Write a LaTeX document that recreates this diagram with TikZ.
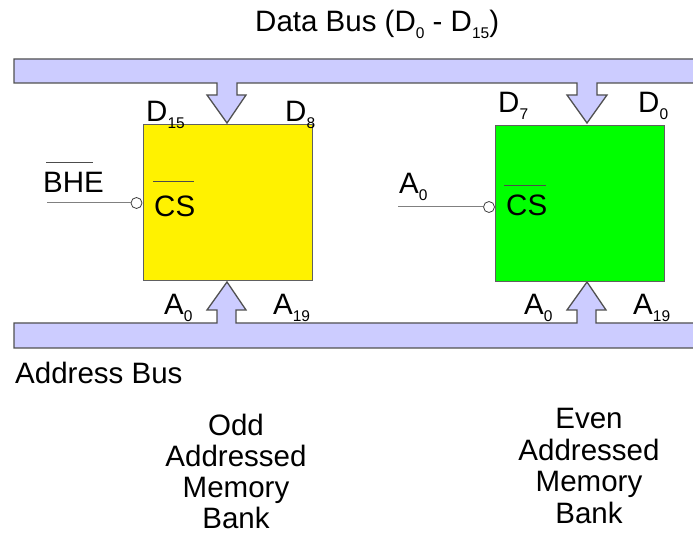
\documentclass[tikz,border=0pt]{standalone}
\usepackage{fontspec}
\setmainfont{Liberation Sans}
% lowered, smaller digits used as signal subscripts
\newcommand\lowsub[1]{\raisebox{-6.5pt}{\fontsize{15.5}{15.5}\selectfont #1}}
\definecolor{busfill}{HTML}{CCCCFF}
\definecolor{busline}{HTML}{505050}
\definecolor{boxline}{HTML}{606060}
\definecolor{wirecol}{HTML}{808080}
\begin{document}
\begin{tikzpicture}[x=1pt,y=-1pt,
  lbl/.style={inner sep=0pt, anchor=base west, font=\fontsize{29.5}{31}\selectfont},
  ctr/.style={inner sep=0pt, anchor=base, font=\fontsize{29.5}{31}\selectfont},
  bus/.style={fill=busfill, draw=busline, line width=1.3pt, line join=miter},
  bank/.style={draw=boxline, line width=0.8pt, inner sep=0pt, anchor=north west,
               minimum width=169pt, minimum height=156pt},
  bubble/.style={circle, draw=black!75, line width=0.8pt, fill=white,
                 minimum size=11pt, inner sep=0pt},
  wire/.style={draw=wirecol, line width=1pt},
  bar/.style={draw=black!70, line width=0.9pt}]
\useasboundingbox (0,0) rectangle (693,534);

% data bus with its two downward taps
\filldraw[bus] (14,59) -- (710,59) -- (710,83)
  -- (597,83) -- (597,95) -- (607,95) -- (587,123) -- (567,95) -- (577,95) -- (577,83)
  -- (237,83) -- (237,95) -- (246,95) -- (227,123) -- (207,95) -- (217,95) -- (217,83)
  -- (14,83) -- cycle;

% address bus with its two upward taps
\filldraw[bus] (14,348) -- (710,348) -- (710,323)
  -- (596,323) -- (596,310) -- (606,310) -- (587,282) -- (567,310) -- (577,310) -- (577,323)
  -- (236,323) -- (236,310) -- (246,310) -- (227,282) -- (207,310) -- (217,310) -- (217,323)
  -- (14,323) -- cycle;

% memory banks
\node[bank, fill=yellow] (odd) at (143,124) {};
\node[bank, fill=green] (even) at (495,125) {};

% chip-select inputs
\node[bubble] (csodd) at (136.5,203) {};
\coordinate (bhein) at (47,203);
\draw[wire] (bhein) -- (csodd.west);
\node[bubble] (cseven) at (489,207) {};
\coordinate (a0in) at (398,207);
\draw[wire] (a0in) -- (cseven.west);

% titles
\node[lbl] (dtitle) at (255,32) {Data Bus (D\lowsub{0} - D\lowsub{15})};
\node[lbl] (atitle) at (15,383) {Address Bus};

% data lines
\node[lbl] (d15) at (146,122) {D\lowsub{15}};
\node[lbl] (d8) at (285,122) {D\lowsub{8}};
\node[lbl] (d7) at (498,113) {D\lowsub{7}};
\node[lbl] (d0) at (638,113) {D\lowsub{0}};

% address lines
\node[lbl] (oa0) at (164,315) {A\lowsub{0}};
\node[lbl] (oa19) at (273,315) {A\lowsub{19}};
\node[lbl] (ea0) at (524,315) {A\lowsub{0}};
\node[lbl] (ea19) at (633,315) {A\lowsub{19}};

% select signals
\node[lbl] (bhe) at (43,193) {BHE};
\draw[bar] (46,162) -- (93,162);
\node[lbl] (a0sel) at (399,194) {A\lowsub{0}};
\node[lbl] (csa) at (154,217) {CS};
\draw[bar] (153,181) -- (194,181);
\node[lbl] (csb) at (506,216) {CS};
\draw[bar] (504,185) -- (546,185);

% bank captions
\node[ctr] (o1) at (236,435) {Odd};
\node[ctr] (o2) at (236,466) {Addressed};
\node[ctr] (o3) at (236,497) {Memory};
\node[ctr] (o4) at (236,528) {Bank};
\node[ctr] (e1) at (589,428) {Even};
\node[ctr] (e2) at (589,460) {Addressed};
\node[ctr] (e3) at (589,491) {Memory};
\node[ctr] (e4) at (589,523) {Bank};
\end{tikzpicture}
\end{document}
